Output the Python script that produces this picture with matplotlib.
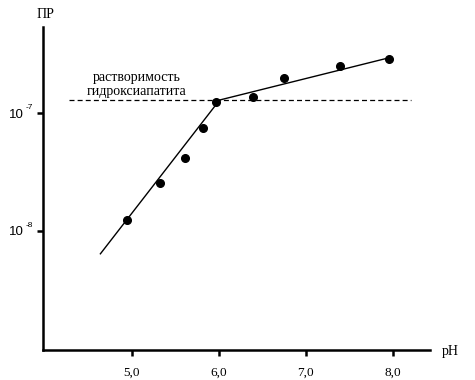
import matplotlib
matplotlib.use("Agg")
import matplotlib.pyplot as plt
import numpy as np

# data (pH vs solubility product ПР)
ph_points = [4.95, 5.32, 5.61, 5.82, 5.97, 6.39, 6.75, 7.39, 7.96]
pr_points = [1.24e-8, 2.55e-8, 4.16e-8, 7.46e-8, 1.24e-7, 1.37e-7, 1.98e-7, 2.52e-7, 2.87e-7]

line_ph = [4.64, 6.01, 7.97]
line_pr = [6.4e-9, 1.29e-7, 2.96e-7]

hap_level = 1.29e-7
hap_ph_range = [4.28, 8.21]

x_ticks = [5.0, 6.0, 7.0, 8.0]
x_ticklabels = ["5,0", "6,0", "7,0", "8,0"]
y_ticks = [1e-8, 1e-7]
y_ticklabels = ["10", "10"]
y_exponents = ["-8", "-7"]

fig = plt.figure(figsize=(4.75, 3.8), dpi=100)
ax = fig.add_axes([0.0905, 0.0789, 0.815, 0.85])

ax.set_yscale('log')
ax.set_xlim(3.98, 8.43)
ax.set_ylim(10**-9.01, 10**-6.27)

ax.plot(line_ph, line_pr, color='black', lw=1.0)
ax.plot(hap_ph_range, [hap_level, hap_level], color='black', lw=0.9,
        dashes=(4, 2.5))
ax.plot(ph_points, pr_points, 'o', color='black', markersize=5.5)

for s in ['top', 'right']:
    ax.spines[s].set_visible(False)
for s in ['left', 'bottom']:
    ax.spines[s].set_linewidth(1.8)

ax.set_xticks(x_ticks)
ax.set_xticklabels(x_ticklabels, fontfamily='Liberation Serif', fontsize=9.5)
ax.set_yticks(y_ticks)
ax.set_yticklabels(y_ticklabels, fontfamily='Liberation Sans', fontsize=9.5)
ax.yaxis.set_minor_locator(matplotlib.ticker.NullLocator())
ax.tick_params(axis='both', which='major', direction='out', length=4, width=1.8)
ax.tick_params(axis='x', pad=8)
ax.tick_params(axis='y', pad=9.5)

ytr = ax.get_yaxis_transform()
for yv, ex in zip(y_ticks, y_exponents):
    ax.annotate(ex, xy=(-17 / 387, yv), xycoords=ytr, xytext=(0, 4),
                textcoords='offset points', ha='left', va='center',
                fontfamily='Liberation Sans', fontsize=6, annotation_clip=False)

fig.text(137 / 475, 1 - 78 / 380, "растворимость", ha='center', va='center',
         fontfamily='Liberation Serif', fontsize=10)
fig.text(137 / 475, 1 - 91 / 380, "гидроксиапатита", ha='center', va='center',
         fontfamily='Liberation Serif', fontsize=10)
fig.text(45 / 475, 1 - 15 / 380, "ПР", ha='center', va='center',
         fontfamily='Liberation Serif', fontsize=10)
fig.text(450 / 475, 1 - 352 / 380, "pH", ha='center', va='center',
         fontfamily='Liberation Serif', fontsize=10)

fig.savefig("out.png", dpi=100)
